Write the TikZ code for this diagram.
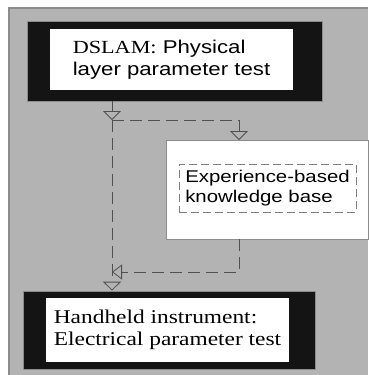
\documentclass[tikz,border=0pt]{standalone}
\usepackage{fontspec}
\newfontfamily\serifw[FakeStretch=1.2]{Liberation Serif}
\newfontfamily\sansw[FakeStretch=1.2]{Liberation Sans}
\usepackage{tikz}
\usetikzlibrary{arrows.meta}

\definecolor{bggray}{HTML}{B3B3B3}
\definecolor{bgline}{HTML}{8C8C8C}
\definecolor{boxblack}{HTML}{141414}
\definecolor{linegray}{HTML}{505050}

\begin{document}
\begin{tikzpicture}[x=1pt, y=-1pt,
    frame/.style={rectangle, fill=boxblack, draw=bgline, line width=0.6pt, inner sep=0pt},
    panel/.style={rectangle, fill=white, draw=none, inner sep=0pt, align=left},
    link/.style={draw=linegray, line width=0.8pt, -{Triangle[open, length=9pt, width=18pt]}},
    dlink/.style={link, dash pattern=on 12pt off 6pt}]
        \useasboundingbox (0,0) rectangle (368,375);
        \fill[bggray] (9,8) rectangle (368,375);
        \draw[bgline, line width=1.2pt] (9,375) -- (9,8) -- (368,8);

        \node[frame, minimum width=295pt, minimum height=80pt] (dslamframe) at (174.5, 61) {};
        \node[panel, minimum width=243pt, minimum height=61pt, font=\sansw\fontsize{18.5}{22}\selectfont] (dslam) at (171.5, 59.5) {{\serifw DSLAM:} Physical\\layer parameter test};

        \node[rectangle, fill=white, draw=bgline, line width=0.6pt, minimum width=202pt, minimum height=99pt] (kb) at (267, 189.5) {};
        \node[panel, draw=gray, dash pattern=on 8pt off 4pt, line width=0.7pt, minimum width=177pt, minimum height=48pt, font=\sansw\fontsize{17}{20}\selectfont] (kbtext) at (267.5, 188) {Experience-based\\knowledge base};

        \node[frame, minimum width=292pt, minimum height=78pt] (handheldframe) at (169, 330) {};
        \node[panel, minimum width=243pt, minimum height=64pt, font=\serifw\fontsize{19.5}{22}\selectfont] (handheld) at (167.5, 330) {Handheld instrument:\\Electrical parameter test};

        \coordinate (split) at (112, 120);
        \coordinate (kbin) at (239, 140);
        \coordinate (kbout) at (239, 239);
        \coordinate (merge) at (112, 272);

        \draw[link] (dslamframe.south -| split) -- (split);
        \draw[dlink] (split) -| (kbin);
        \draw[dlink, -{Triangle[open, length=10pt, width=15pt]}] (kbout) |- (merge);
        \draw[dlink] (split) -- (handheldframe.north -| split);
    \end{tikzpicture}
\end{document}
